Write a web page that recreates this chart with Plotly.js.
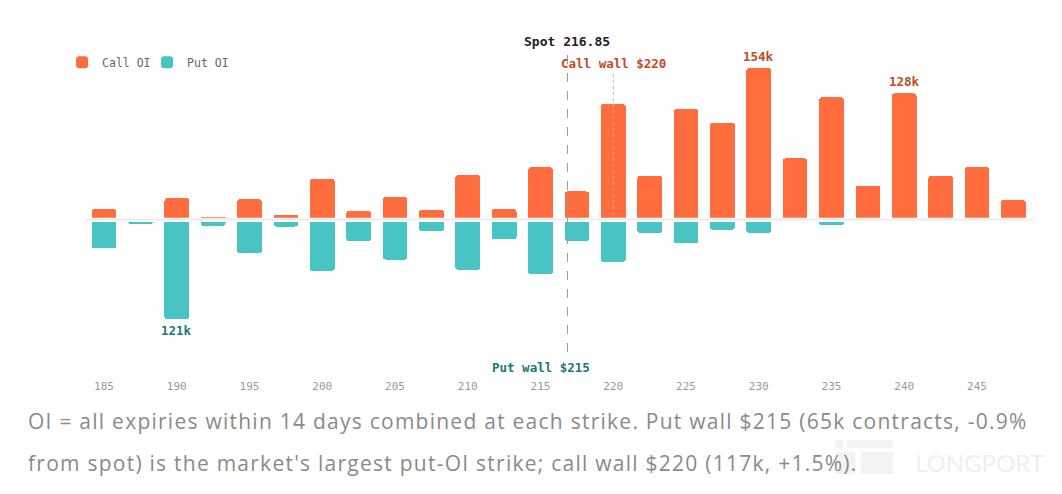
<!DOCTYPE html>
<html>
<head>
<meta charset="utf-8">
<script src="https://cdn.plot.ly/plotly-3.0.1.min.js"></script>
<style>
  body { margin: 0; background: #fff; }
  #wrap { position: relative; width: 1062px; height: 494px; overflow: hidden; }
  #chart { width: 1062px; height: 400px; }
  #note {
    position: absolute; left: 28px; top: 400px; z-index: 2;
    font-family: "Open Sans", Lato, sans-serif; font-size: 21px; letter-spacing: 1.25px;
    line-height: 42px; color: #8a8a8a; white-space: nowrap;
  }
  #mark { position: absolute; left: 835px; top: 436px; z-index: 1; }
  #mark .b { position: absolute; background: #f3f3f3; }
  #mark .t {
    position: absolute; left: 80px; top: 12px; font-family: Lato, sans-serif;
    font-size: 24px; color: #efefef;
  }
</style>
</head>
<body>
<div id="wrap">
  <div id="chart"></div>
  <div id="mark">
    <div class="b" style="left:0;top:4px;width:8px;height:8px"></div>
    <div class="b" style="left:12px;top:4px;width:46px;height:8px"></div>
    <div class="b" style="left:0;top:16px;width:20px;height:22px"></div>
    <div class="b" style="left:26px;top:16px;width:32px;height:22px"></div>
    <div class="t">LONGPORT</div>
  </div>
  <div id="note">OI = all expiries within 14 days combined at each strike. Put wall $215 (65k contracts, -0.9%<br>from spot) is the market's largest put-OI strike; call wall $220 (117k, +1.5%).</div>
</div>
<script>
var strikes = [185, 187.5, 190, 192.5, 195, 197.5, 200, 202.5, 205, 207.5, 210, 212.5, 215,
               217.5, 220, 222.5, 225, 227.5, 230, 232.5, 235, 237.5, 240, 242.5, 245, 247.5];
// open interest in thousands of contracts
var callOI = [9, 0, 20, 1, 19, 3, 40, 7, 21, 8, 44, 9, 52,
              27, 117, 43, 112, 98, 154, 61, 124, 33, 128, 43, 52, 18];
var putOI = [33, 3, 121, 5, 39, 6, 61, 24, 47, 12, 60, 22, 65,
             24, 50, 14, 27, 10, 14, 0.8, 4, 0, 0.8, 0, 0, 0];
var tickVals = [185, 190, 195, 200, 205, 210, 215, 220, 225, 230, 235, 240, 245];
var spot = 216.85;
var callWall = 220;
var putWall = 215;

var orange = '#ff6d3f';
var teal = '#48c4c4';
var mono = '"DejaVu Sans Mono", monospace';

var callTrace = {
  x: strikes, y: callOI, type: 'bar', name: 'Call OI', yaxis: 'y',
  width: 1.7, marker: { color: orange, cornerradius: 3 },
  hoverinfo: 'x+y'
};
var putTrace = {
  x: strikes, y: putOI, type: 'bar', name: 'Put OI', yaxis: 'y2',
  width: 1.7, marker: { color: teal, cornerradius: 3 },
  hoverinfo: 'x+y'
};

function peakLabel(x, v, axis, color, below) {
  return {
    x: x, y: v, xref: 'x', yref: axis, text: '<b>' + v + 'k</b>', showarrow: false,
    yanchor: below ? 'top' : 'bottom', yshift: below ? -2 : 2,
    font: { family: mono, size: 12.5, color: color }
  };
}

var layout = {
  width: 1062, height: 400,
  margin: { l: 85, r: 29, t: 30, b: 28 },
  paper_bgcolor: '#fff', plot_bgcolor: '#fff',
  bargap: 0, showlegend: true,
  legend: {
    orientation: 'h', x: -0.0242, y: 0.906, xanchor: 'left', yanchor: 'middle',
    font: { family: mono, size: 11.5, color: '#666' }, itemwidth: 30,
    entrywidth: 40
  },
  xaxis: {
    range: [183.69, 248.85], anchor: 'y2', showgrid: false, zeroline: false,
    showline: false, tickvals: tickVals, ticks: '', ticklabelstandoff: 6,
    tickfont: { family: mono, size: 11, color: '#999' }
  },
  yaxis: {
    domain: [0.4512, 1], range: [0, 193.3], visible: false, fixedrange: true
  },
  yaxis2: {
    domain: [0, 0.4395], range: [186.7, 0], visible: false, fixedrange: true
  },
  shapes: [
    { type: 'line', xref: 'paper', yref: 'paper', x0: 0, x1: 1, y0: 0.4459, y1: 0.4459,
      line: { color: '#ebebeb', width: 2 }, layer: 'below' },
    { type: 'line', xref: 'x', yref: 'paper', x0: spot, x1: spot, y0: 0.0585, y1: 0.9327,
      line: { color: '#999', width: 1, dash: 'dash' }, layer: 'above' },
    { type: 'line', xref: 'x', yref: 'paper', x0: callWall, x1: callWall, y0: 0.459, y1: 0.874,
      line: { color: '#f0a48c', width: 1, dash: 'dot' }, layer: 'above' }
  ],
  annotations: [
    { x: spot, y: 0.9678, xref: 'x', yref: 'paper', yanchor: 'middle', text: '<b>Spot ' + spot + '</b>',
      showarrow: false, font: { family: mono, size: 13, color: '#222' } },
    { x: callWall, y: 0.9026, xref: 'x', yref: 'paper', yanchor: 'middle', text: '<b>Call wall $' + callWall + '</b>',
      showarrow: false, font: { family: mono, size: 12.5, color: '#c24b1e' } },
    { x: putWall, y: 0.0137, xref: 'x', yref: 'paper', yanchor: 'middle', text: '<b>Put wall $' + putWall + '</b>',
      showarrow: false, font: { family: mono, size: 12.5, color: '#1b7878' } },
    peakLabel(230, 154, 'y', '#c24b1e', false),
    peakLabel(240, 128, 'y', '#c24b1e', false),
    peakLabel(190, 121, 'y2', '#1b7878', true)
  ]
};

Plotly.newPlot('chart', [callTrace, putTrace], layout, { displayModeBar: false, staticPlot: true });
</script>
</body>
</html>
